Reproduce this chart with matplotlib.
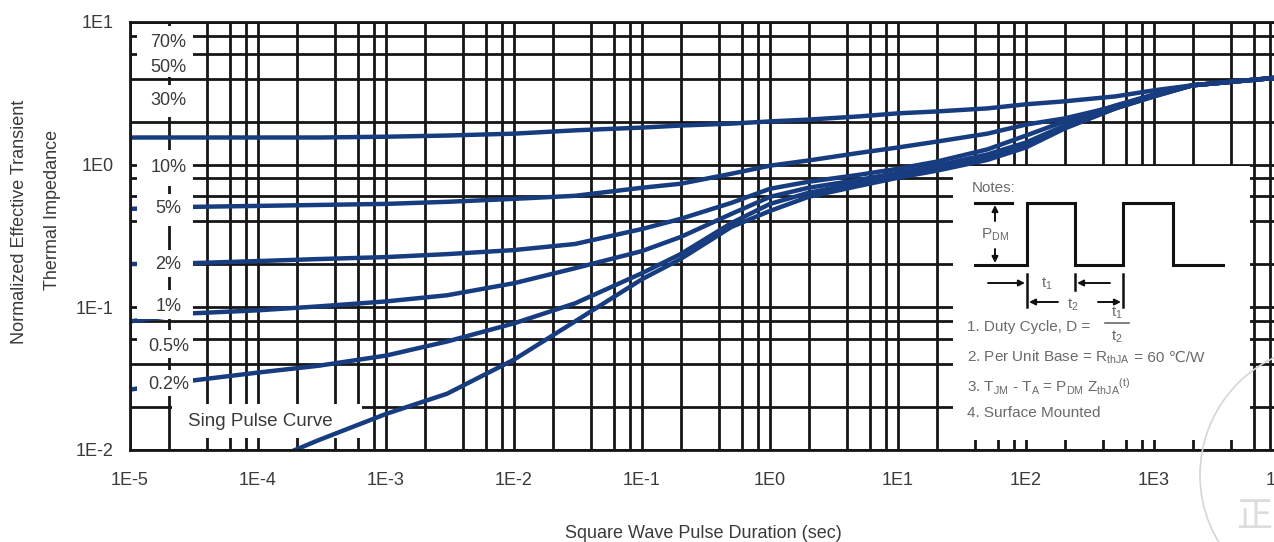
import matplotlib
matplotlib.use("Agg")
import matplotlib.pyplot as plt
from matplotlib.patches import Rectangle, Circle
from matplotlib.ticker import LogLocator, NullFormatter
from matplotlib.transforms import IdentityTransform

plt.rcParams['font.family'] = ['Liberation Sans', 'DejaVu Sans']
plt.rcParams['mathtext.fontset'] = 'custom'
plt.rcParams['mathtext.rm'] = 'Liberation Sans'
plt.rcParams['mathtext.it'] = 'Liberation Sans:italic'

# Square wave pulse duration (sec) sample points
t_grid = [1e-5, 3e-5, 1e-4, 3e-4, 1e-3, 3e-3, 1e-2, 3e-2, 1e-1, 2e-1, 5e-1,
          1, 2, 5, 10, 20, 50, 100, 200, 500, 1000, 2000, 1e4]

# Normalized effective transient thermal impedance per curve
z_top = [1.55, 1.55, 1.55, 1.55, 1.57, 1.60, 1.65, 1.74, 1.82, 1.88, 1.94,
         2.01, 2.07, 2.18, 2.29, 2.36, 2.48, 2.65, 2.78, 3.01, 3.32, 3.60, 4.10]
z_5pct = [0.490, 0.506, 0.514, 0.522, 0.531, 0.549, 0.576, 0.605, 0.689, 0.735, 0.864,
          0.984, 1.07, 1.21, 1.32, 1.45, 1.65, 1.91, 2.11, 2.56, 3.06, 3.60, 4.10]
z_2pct = [0.201, 0.204, 0.211, 0.218, 0.225, 0.236, 0.252, 0.278, 0.354, 0.417, 0.540,
          0.678, 0.759, 0.850, 0.937, 1.05, 1.28, 1.60, 2.01, 2.60, 3.11, 3.60, 4.10]
z_1pct = [0.0797, 0.0907, 0.0953, 0.1016, 0.110, 0.1215, 0.1476, 0.188, 0.248, 0.311, 0.452,
          0.595, 0.689, 0.784, 0.878, 0.984, 1.18, 1.43, 1.88, 2.56, 3.06, 3.60, 4.10]
z_02pct = [0.0265, 0.0306, 0.0349, 0.0390, 0.0459, 0.0576, 0.0772, 0.1067, 0.1736, 0.236, 0.390,
           0.531, 0.635, 0.747, 0.837, 0.937, 1.12, 1.36, 1.82, 2.48, 3.01, 3.60, 4.10]

t_single = [1.71e-4, 3e-4, 1e-3, 3e-3, 1e-2, 3e-2, 1e-1, 2e-1, 5e-1,
            1, 2, 5, 10, 20, 50, 100, 200, 500, 1000, 2000, 1e4]
z_single = [0.00953, 0.01176, 0.0179, 0.0248, 0.0430, 0.0797, 0.1575, 0.218, 0.366,
            0.474, 0.595, 0.711, 0.810, 0.907, 1.08, 1.32, 1.79, 2.48, 3.01, 3.60, 4.10]

duty_labels = ['70%', '50%', '30%', '10%', '5%', '2%', '1%', '0.5%', '0.2%']
duty_label_y = [7.23, 4.82, 2.82, 0.953, 0.49, 0.201, 0.101, 0.0531, 0.0287]

x_ticks = [1e-5, 1e-4, 1e-3, 1e-2, 1e-1, 1, 10, 100, 1000, 1e4]
x_tick_labels = ['1E-5', '1E-4', '1E-3', '1E-2', '1E-1', '1E0', '1E1', '1E2', '1E3', '1E4']
y_ticks = [1e-2, 1e-1, 1, 10]
y_tick_labels = ['1E-2', '1E-1', '1E0', '1E1']

W, H = 1274, 542
CURVE = '#173d80'
GRID = '#161616'
TXT = '#3a3a3a'

fig = plt.figure(figsize=(W / 100, H / 100), dpi=100)
# plot area spans px 130..1282 (right edge falls just past the image) and 22..450
ax = fig.add_axes([130 / W, (H - 450) / H, 1152 / W, 428 / H])
ax.set_xscale('log')
ax.set_yscale('log')
ax.set_xlim(1e-5, 1e4)
ax.set_ylim(1e-2, 1e1)

ax.xaxis.set_minor_locator(LogLocator(base=10, subs=(2, 4, 6, 8), numticks=20))
ax.yaxis.set_minor_locator(LogLocator(base=10, subs=(2, 4, 6, 8), numticks=20))
ax.xaxis.set_minor_formatter(NullFormatter())
ax.yaxis.set_minor_formatter(NullFormatter())
ax.set_xticks(x_ticks, x_tick_labels)
ax.set_yticks(y_ticks, y_tick_labels)
ax.tick_params(which='both', length=0)
ax.tick_params(axis='x', pad=16, labelsize=13, labelcolor=TXT)
ax.tick_params(axis='y', pad=12, labelsize=13, labelcolor=TXT)
ax.set_axisbelow(True)
ax.grid(which='both', color=GRID, lw=2.0)
for s in ax.spines.values():
    s.set_linewidth(2.0)
    s.set_color(GRID)

# curves
for z in [z_top, z_5pct, z_2pct, z_1pct, z_02pct]:
    ax.plot(t_grid, z, color=CURVE, lw=3.2, zorder=1.5, solid_capstyle='butt')
ax.plot(t_single, z_single, color=CURVE, lw=3.2, zorder=2.2, solid_capstyle='butt')


def ax_frac(px, py):
    return (px - 130) / 1152, (450 - py) / 428


# white boxes behind the duty cycle labels (px ranges in the image)
label_boxes = [(26, 77), (85, 117), (150, 186), (194, 226), (250, 277),
               (290, 319), (330, 358), (370, 396)]
for top, bot in label_boxes:
    x0, y0 = ax_frac(137, bot)
    x1, y1 = ax_frac(193, top)
    ax.add_patch(Rectangle((x0, y0), x1 - x0, y1 - y0, transform=ax.transAxes,
                           facecolor='white', edgecolor='none', zorder=2))

for lab, yv in zip(duty_labels, duty_label_y):
    ax.text(2e-5, yv, lab, ha='center', va='center', fontsize=13, color=TXT, zorder=3)

x0, y0 = ax_frac(172, 438)
x1, y1 = ax_frac(362, 404)
ax.add_patch(Rectangle((x0, y0), x1 - x0, y1 - y0, transform=ax.transAxes,
                       facecolor='white', edgecolor='none', zorder=2))
xs, ys = ax_frac(260, 422)
ax.text(xs, ys, 'Sing Pulse Curve', transform=ax.transAxes, ha='center', va='center',
        fontsize=13.5, color=TXT, zorder=3)

# Notes box
x0, y0 = ax_frac(953, 440)
x1, y1 = ax_frac(1250, 166)
ax.add_patch(Rectangle((x0, y0), x1 - x0, y1 - y0, transform=ax.transAxes,
                       facecolor='white', edgecolor='none', zorder=2))

nb = fig.add_axes([953 / W, (H - 440) / H, 297 / W, 274 / H])
nb.set_xlim(953, 1250)
nb.set_ylim(440, 166)
nb.axis('off')
NT = '#6a6a6a'
wave_x = [975, 1027, 1027, 1075, 1075, 1123, 1123, 1173, 1173, 1223]
wave_y = [265, 265, 203, 203, 265, 265, 203, 203, 265, 265]
nb.plot(wave_x, wave_y, color='#111111', lw=2.2, solid_joinstyle='miter')
nb.plot([975, 1012], [203, 203], color='#111111', lw=2.2)
arrow = dict(arrowstyle='-|>', color='#111111', lw=1.4, mutation_scale=9,
             shrinkA=0, shrinkB=0)
nb.annotate('', xy=(995, 205), xytext=(995, 221), arrowprops=arrow)
nb.annotate('', xy=(995, 263), xytext=(995, 249), arrowprops=arrow)
nb.text(981, 235, r'P$_{\rm DM}$', fontsize=11, color=NT, va='center')
nb.plot([1027, 1027], [274, 307], color='#111111', lw=1.8)
nb.plot([1075, 1075], [274, 290], color='#111111', lw=1.8)
nb.plot([1123, 1123], [274, 307], color='#111111', lw=1.8)
nb.annotate('', xy=(1025, 283), xytext=(988, 283), arrowprops=arrow)
nb.annotate('', xy=(1077, 283), xytext=(1110, 283), arrowprops=arrow)
nb.annotate('', xy=(1029, 302), xytext=(1058, 302), arrowprops=arrow)
nb.annotate('', xy=(1121, 302), xytext=(1098, 302), arrowprops=arrow)
nb.text(1047, 284, r't$_1$', fontsize=11, color=NT, ha='center', va='center')
nb.text(1073, 305, r't$_2$', fontsize=11, color=NT, ha='center', va='center')
nb.text(972, 188, 'Notes:', fontsize=11, color=NT, va='center')
nb.text(967, 327, '1. Duty Cycle, D =', fontsize=11, color=NT, va='center')
nb.text(1117, 313, r't$_1$', fontsize=11, color=NT, ha='center', va='center')
nb.plot([1105, 1129], [323, 323], color=NT, lw=1.2)
nb.text(1117, 337, r't$_2$', fontsize=11, color=NT, ha='center', va='center')
line2 = nb.text(967, 362, r'2. Per Unit Base = R$_{\rm thJA}$', fontsize=11,
                color=NT, va='baseline')
nb.annotate(' = 60 \u2103/W', xy=(1, 362), xycoords=(line2, 'data'), fontsize=11,
            color=NT, va='baseline', ha='left',
            family=['Liberation Sans', 'DejaVu Sans'])
nb.text(967, 387, r'3. T$_{\rm JM}$ - T$_{\rm A}$ = P$_{\rm DM}$ Z$_{\rm thJA}$$^{\rm (t)}$',
        fontsize=11, color=NT, va='center')
nb.text(967, 413, '4. Surface Mounted', fontsize=11, color=NT, va='center')

# axis titles
fig.text(703 / W, 1 - 533 / H, 'Square Wave Pulse Duration (sec)', ha='center',
         va='center', fontsize=13, color=TXT)
fig.text(20 / W, 1 - 222 / H, 'Normalized Effective Transient', rotation=90,
         ha='center', va='center', fontsize=13, color=TXT)
fig.text(53 / W, 1 - 210 / H, 'Thermal Impedance', rotation=90,
         ha='center', va='center', fontsize=13, color=TXT)

# faint watermark at the bottom right
fig.patches.append(Circle((1330, H - 475), 130, transform=IdentityTransform(),
                          fill=False, edgecolor='#d6d6d6', lw=1.2))
fig.text(1254 / W, 1 - 517 / H, '正', ha='center', va='center', fontsize=26,
         color='#dcdcdc', family=['Noto Sans CJK SC', 'DejaVu Sans'])

fig.savefig('out.png', dpi=100)
